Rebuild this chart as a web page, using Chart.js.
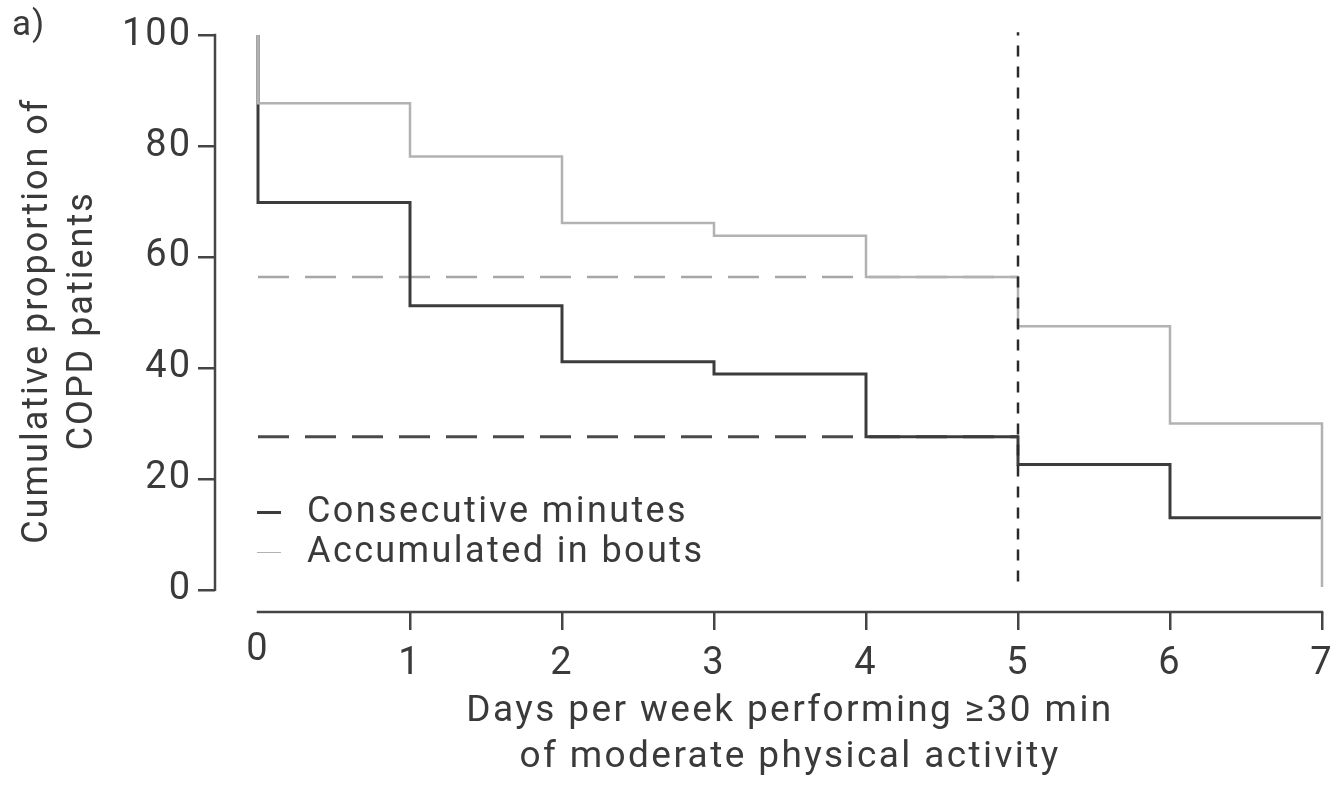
<!DOCTYPE html>
<html>
<head>
<meta charset="utf-8">
<script src="https://cdn.jsdelivr.net/npm/chart.js@4.4.1/dist/chart.umd.min.js"></script>
<style>
  body { margin: 0; background: #fff; font-family: Roboto, sans-serif; color: #3a3a3a; }
  #wrap { position: relative; width: 1330px; height: 796px; }
  .txt { position: absolute; white-space: nowrap; }
  #legend .row { height: 40px; line-height: 40px; font-size: 36px; letter-spacing: 2.4px; }
  #legend .key { display: inline-block; width: 24px; vertical-align: middle; margin-right: 26px; }
</style>
</head>
<body>
<div id="wrap">
  <canvas id="chart" width="1330" height="796"></canvas>
  <div class="txt" style="left:12px; top:6px; font-size:35px; line-height:36px; letter-spacing:1px;">a)</div>
  <div class="txt" id="legend" style="left:257px; top:490px;"></div>
  <div class="txt" id="xtitle" style="left:290px; width:1000px; top:686px; text-align:center; font-size:37px; line-height:46px; letter-spacing:2.4px;"></div>
</div>
<script>
// days per week (x), step points of the two cumulative curves
const days = [0, 0, 1, 2, 3, 4, 5, 6, 7];
const consecutive = [100, 69.8, 51.2, 41.1, 38.9, 27.6, 22.6, 13.0, 13.0];
const bouts = [100, 87.7, 78.1, 66.1, 63.8, 56.4, 47.5, 30.0, 0.5];

// reference lines: proportion reaching 5 days, and the 5-day cut-off
const refX = [0, 5];
const refConsecutive = [27.6, 27.6];
const refBouts = [56.4, 56.4];
const cutX = [5, 5];
const cutY = [1.5, 100.5];

const xTicks = [0, 1, 2, 3, 4, 5, 6, 7];
const yTicks = [0, 20, 40, 60, 80, 100];

const xTitle = ['Days per week performing \u226530 min', 'of moderate physical activity'];
const yTitle = ['Cumulative proportion of', 'COPD patients'];

const darkColor = '#3c3c3c';
const lightColor = '#b2b2b2';
const axisColor = '#454545';
const textColor = '#3a3a3a';

const xy = (xs, ys) => xs.map((x, i) => ({ x: x, y: ys[i] }));
const isOrigin = c => c.tick && c.tick.value === xTicks[0];

// the reference font runs wider than Roboto, so space the canvas text out a bit
const wideText = {
  id: 'wideText',
  beforeUpdate(chart) { chart.ctx.letterSpacing = '2px'; },
  beforeDraw(chart) { chart.ctx.letterSpacing = '2px'; }
};

// range-frame axis lines, only over the tick span
const axisLines = {
  id: 'axisLines',
  afterDraw(chart) {
    const { ctx, chartArea, scales } = chart;
    ctx.save();
    ctx.strokeStyle = axisColor;
    ctx.lineWidth = 2.5;
    ctx.lineCap = 'square';
    ctx.beginPath();
    ctx.moveTo(chartArea.left, scales.y.getPixelForValue(yTicks[0]));
    ctx.lineTo(chartArea.left, scales.y.getPixelForValue(yTicks[yTicks.length - 1]));
    ctx.moveTo(scales.x.getPixelForValue(xTicks[0]), chartArea.bottom);
    ctx.lineTo(scales.x.getPixelForValue(xTicks[xTicks.length - 1]), chartArea.bottom);
    ctx.stroke();
    ctx.restore();
  }
};

const chart = new Chart(document.getElementById('chart'), {
  type: 'line',
  data: {
    datasets: [
      {
        label: 'cut-off',
        data: xy(cutX, cutY),
        borderColor: '#2a2a2a',
        borderWidth: 2.5,
        borderDash: [11, 10],
        order: 0
      },
      {
        label: 'Accumulated in bouts',
        data: xy(days, bouts),
        borderColor: lightColor,
        borderWidth: 2.5,
        stepped: true,
        order: 1
      },
      {
        label: 'Consecutive minutes',
        data: xy(days, consecutive),
        borderColor: darkColor,
        borderWidth: 3,
        stepped: true,
        order: 2
      },
      {
        label: 'ref bouts',
        data: xy(refX, refBouts),
        borderColor: '#a6a6a6',
        borderWidth: 2.5,
        borderDash: [31, 16],
        order: 3
      },
      {
        label: 'ref consecutive',
        data: xy(refX, refConsecutive),
        borderColor: '#4a4a4a',
        borderWidth: 3,
        borderDash: [31, 16],
        order: 3
      }
    ]
  },
  options: {
    responsive: false,
    animation: false,
    layout: { padding: { top: 29.5, right: 0, bottom: 0, left: 0 } },
    elements: { point: { radius: 0 }, line: { tension: 0 } },
    plugins: {
      legend: { display: false },
      tooltip: { enabled: false }
    },
    scales: {
      x: {
        type: 'linear',
        min: -0.2829,
        max: 7.0526,
        afterBuildTicks: s => { s.ticks = xTicks.map(v => ({ value: v })); },
        afterFit: s => { s.height = 184; s.paddingLeft = 0; s.paddingRight = 0; },
        border: { display: false },
        grid: {
          drawOnChartArea: false,
          drawTicks: true,
          tickLength: 18,
          lineWidth: 2.5,
          color: axisColor,
          tickColor: c => isOrigin(c) ? 'rgba(0,0,0,0)' : axisColor
        },
        ticks: {
          autoSkip: false,
          maxRotation: 0,
          padding: 12,
          color: textColor,
          // the "0" sits higher in the original, where there is no tick mark
          font: c => ({ family: 'Roboto', size: 38, lineHeight: isOrigin(c) ? 0.46 : 1.2 })
        }
      },
      y: {
        type: 'linear',
        min: -4,
        max: 101,
        afterBuildTicks: s => { s.ticks = yTicks.map(v => ({ value: v })); },
        afterFit: s => { s.width = 215; s.paddingTop = 0; s.paddingBottom = 0; },
        border: { display: false },
        grid: { drawOnChartArea: false, drawTicks: true, tickLength: 17, color: axisColor, lineWidth: 2.5 },
        ticks: { padding: 6, color: textColor, font: { family: 'Roboto', size: 38 } },
        title: {
          display: true,
          text: yTitle,
          color: textColor,
          font: { family: 'Roboto', size: 36, lineHeight: 1.25 },
          padding: { top: 15, bottom: 0 }
        }
      }
    }
  },
  plugins: [wideText, axisLines]
});

// legend and x title as page text
const legend = document.getElementById('legend');
[chart.data.datasets[2], chart.data.datasets[1]].forEach(ds => {
  const row = document.createElement('div');
  row.className = 'row';
  const key = document.createElement('span');
  key.className = 'key';
  key.style.borderTop = (ds.borderWidth === 3 ? 3 : 1.5) + 'px solid ' + ds.borderColor;
  row.appendChild(key);
  row.appendChild(document.createTextNode(ds.label));
  legend.appendChild(row);
});
document.getElementById('xtitle').innerHTML = xTitle.join('<br>');
</script>
</body>
</html>
